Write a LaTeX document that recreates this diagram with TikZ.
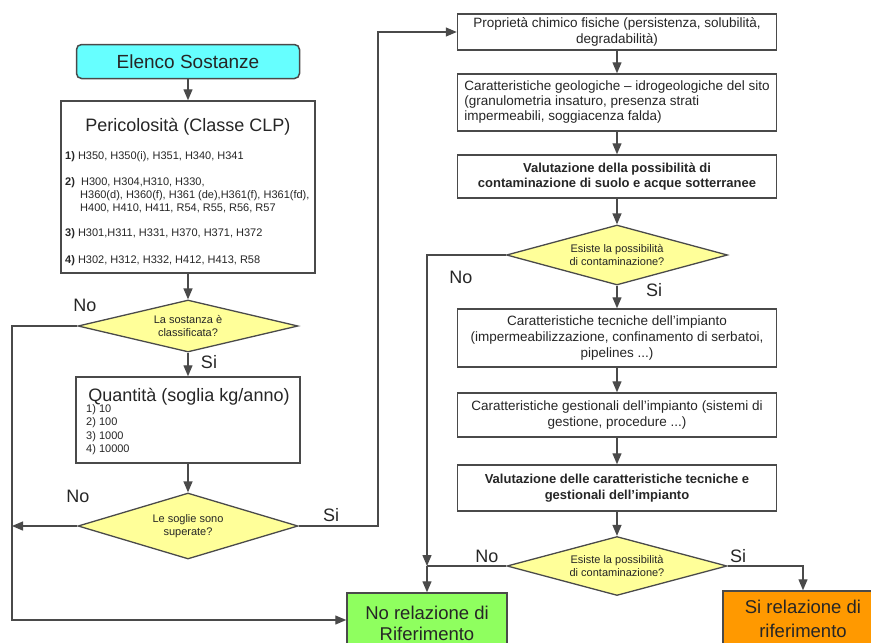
\documentclass[tikz,border=0pt]{standalone}
\usepackage{fontspec}
\setmainfont{Liberation Sans}
\usetikzlibrary{arrows.meta,shapes.geometric}
\definecolor{lc}{HTML}{4A4A4A}
\definecolor{tc}{HTML}{262626}
\definecolor{cyanf}{HTML}{66FFFF}
\definecolor{yelf}{HTML}{FFFF99}
\definecolor{grnf}{HTML}{8FFF5F}
\definecolor{orgf}{HTML}{FF9900}
\newcommand{\fsz}[2]{\fontsize{#1}{#2}\selectfont}
\begin{document}
\begin{tikzpicture}[x=1pt,y=-1pt,
  every node/.style={text=tc},
  ln/.style={draw=lc, line width=1.3pt},
  arr/.style={draw=lc, line width=1.3pt, -{Triangle[length=11pt,width=9pt]}},
  bx/.style={draw=lc, line width=1.5pt, fill=white, inner sep=2pt},
  dia/.style={diamond, draw=lc, line width=1.3pt, fill=yelf, inner sep=0pt, align=center, font=\fsz{11}{13.5}},
  lab/.style={font=\fsz{18}{21}},
  itm/.style={anchor=base west, inner sep=0pt, font=\fsz{11}{13}},
  big/.style={anchor=base, font=\fsz{18.5}{22}}
]
\useasboundingbox (0,0) rectangle (871,643);
\clip (0,0) rectangle (871,643);

% ---------- left column ----------
\node[draw=lc, line width=1.5pt, fill=cyanf, rounded corners=5pt, minimum width=223pt, minimum height=34pt, inner sep=0pt, font=\fsz{19}{22}] (elenco) at (188,61.5) {Elenco Sostanze};

\node[bx, minimum width=254pt, minimum height=172pt] (peric) at (188,187) {};
\node[anchor=base, font=\fsz{18}{21}] (pt) at (188,131) {Pericolosità (Classe CLP)};
\node[itm] (p1) at (65,159) {\textbf{1)} H350, H350(i), H351, H340, H341};
\node[itm] (p2) at (65,185) {\textbf{2)}\ \ H300, H304,H310, H330,};
\node[itm] (p2b) at (80,198) {H360(d), H360(f), H361 (de),H361(f), H361(fd),};
\node[itm] (p2c) at (80,211) {H400, H410, H411, R54, R55, R56, R57};
\node[itm] (p3) at (65,236) {\textbf{3)} H301,H311, H331, H370, H371, H372};
\node[itm] (p4) at (65,263) {\textbf{4)} H302, H312, H332, H412, H413, R58};

\node[dia, minimum width=220pt, minimum height=52pt, aspect=4.2] (d1) at (188,326) {La sostanza è\\classificata?};

\node[bx, minimum width=224pt, minimum height=86pt] (quant) at (188,420) {};
\node[anchor=base, font=\fsz{18}{21}] (qt) at (189,401) {Quantità (soglia kg/anno)};
\node[itm] (q1) at (86,412) {1) 10};
\node[itm] (q2) at (86,425.5) {2) 100};
\node[itm] (q3) at (86,439) {3) 1000};
\node[itm] (q4) at (86,452.5) {4) 10000};

\node[dia, minimum width=220pt, minimum height=66pt, aspect=3.3] (d2) at (188,526) {Le soglie sono\\superate?};

% ---------- right column ----------
\node[bx, minimum width=319pt, minimum height=36pt, align=center, font=\fsz{13.5}{16.5}] (prop) at (617,32) {Proprietà chimico fisiche (persistenza, solubilità,\\degradabilità)};
\node[bx, minimum width=319pt, minimum height=57pt, align=left, font=\fsz{13.5}{15}] (geo) at (617,102.5) {Caratteristiche geologiche -- idrogeologiche del sito\\(granulometria insaturo, presenza strati\\impermeabili, soggiacenza falda)};
\node[bx, minimum width=319pt, minimum height=43pt, align=center, font=\fsz{13}{15.5}\bfseries] (vals) at (617,176.5) {Valutazione della possibilità di\\contaminazione di suolo e acque sotterranee};

\node[dia, minimum width=221pt, minimum height=60pt, aspect=3.7] (d3) at (617,255) {Esiste la possibilità\\di contaminazione?};

\node[bx, minimum width=319pt, minimum height=58pt, align=center, font=\fsz{13.5}{16}] (tecn) at (617,338) {Caratteristiche tecniche dell'impianto\\(impermeabilizzazione, confinamento di serbatoi,\\pipelines ...)};
\node[bx, minimum width=319pt, minimum height=44pt, align=center, font=\fsz{13.5}{16}] (gest) at (617,415) {Caratteristiche gestionali dell'impianto (sistemi di\\gestione, procedure ...)};
\node[bx, minimum width=319pt, minimum height=46pt, align=center, font=\fsz{13}{16}\bfseries] (valimp) at (617,488) {Valutazione delle caratteristiche tecniche e\\gestionali dell'impianto};

\node[dia, minimum width=220pt, minimum height=59pt, aspect=3.7] (d4) at (617,566) {Esiste la possibilità\\di contaminazione?};

% ---------- outcomes ----------
\node[draw=lc, line width=1.5pt, fill=grnf, minimum width=160pt, minimum height=80pt, inner sep=0pt] (green) at (427,633) {};
\node[big] (g1) at (427,619) {No relazione di};
\node[big] (g2) at (427,640) {Riferimento};
\node[draw=lc, line width=1.5pt, fill=orgf, minimum width=160pt, minimum height=80pt, inner sep=0pt] (orange) at (803,631) {};
\node[big] (o1) at (803,613) {Si relazione di};
\node[big] (o2) at (803,637) {riferimento};

% ---------- connectors ----------
\draw[arr] (elenco.south) -- (peric.north);
\draw[arr] (peric.south) -- (d1.north);
\draw[arr] (d1.south) -- (quant.north);
\draw[arr] (quant.south) -- (d2.north);

\coordinate (L1) at (12,326);
\coordinate (L3) at (12,620);
\draw[arr] (d1.west) -- (L1) -- (L3) -- (L3 -| green.west);
\coordinate (L2) at (12,526);
\draw[arr] (d2.west) -- (L2);
\coordinate (R1) at (378,526);
\draw[arr] (d2.east) -- (R1) |- (prop.west);

\draw[arr] (prop.south) -- (geo.north);
\draw[arr] (geo.south) -- (vals.north);
\draw[arr] (vals.south) -- (d3.north);
\draw[arr] (d3.south) -- (tecn.north);
\draw[arr] (tecn.south) -- (gest.north);
\draw[arr] (gest.south) -- (valimp.north);
\draw[arr] (valimp.south) -- (d4.north);

\coordinate (J) at (427,566);
\draw[arr] (d3.west) -| (J);
\draw[ln] (d4.west) -- (J);
\draw[arr] (J) -- (green.north);
\coordinate (R2) at (803,566);
\draw[arr] (d4.east) -- (R2) -- (orange.north);

% ---------- labels ----------
\node[lab] (no1) at (85,305) {No};
\node[lab] (si1) at (209,362) {Si};
\node[lab] (no2) at (78,496) {No};
\node[lab] (si2) at (331,515) {Si};
\node[lab] (no3) at (461,277) {No};
\node[lab] (si3) at (654,290) {Si};
\node[lab] (no4) at (487,556) {No};
\node[lab] (si4) at (738,556) {Si};
\end{tikzpicture}
\end{document}
